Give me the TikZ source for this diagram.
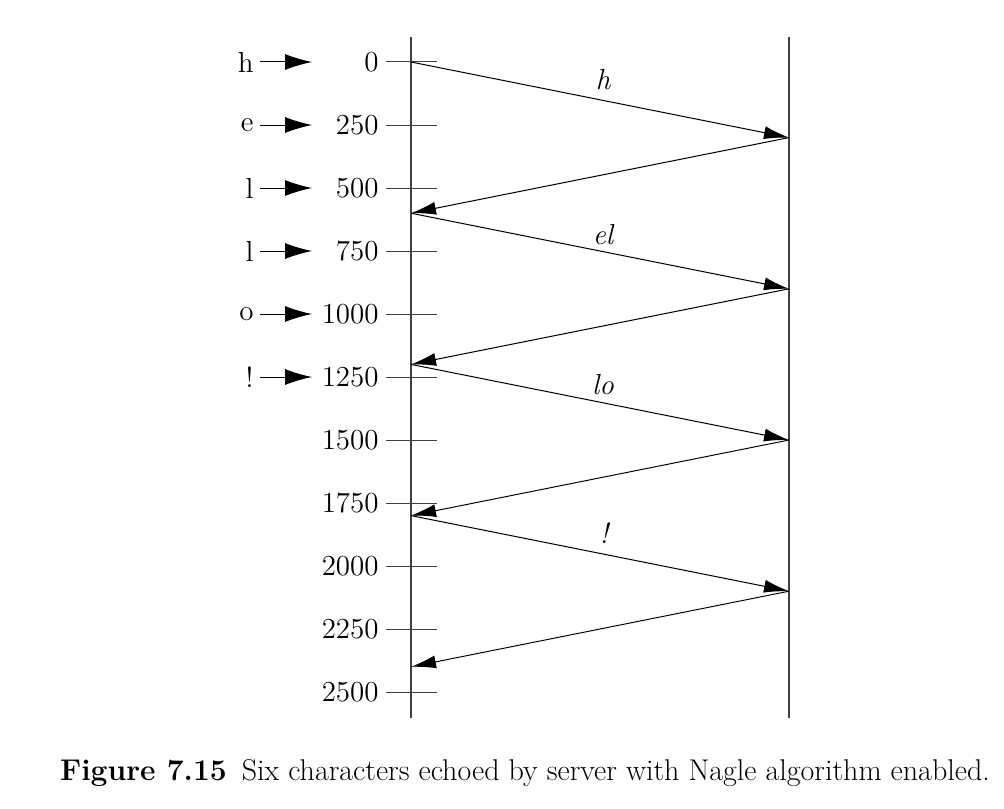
\documentclass[tikz,border=0pt]{standalone}
\usepackage{tikz}
\usetikzlibrary{arrows.meta,positioning}
\tikzset{
  msg/.style={-{Latex[length=12.5pt,width=6.5pt]},line width=0.5pt},
  inarr/.style={-{Latex[length=13.5pt,width=8pt]},line width=0.5pt},
  axis/.style={line width=0.6pt,black!75},
  ticklabel/.style={anchor=east,inner sep=0pt,font=\fontsize{14.5}{16}\selectfont},
  msglabel/.style={inner sep=0pt,font=\fontsize{14.5}{16}\selectfont\itshape}
}
\begin{document}
\begin{tikzpicture}[x=0.5pt,y=-0.5pt]
\useasboundingbox (0,0) rectangle (1004,808);
\coordinate (lt) at (411,37);
\coordinate (lb) at (411,718);
\coordinate (rt) at (789,37);
\coordinate (rb) at (789,718);
\draw[axis] (lt) -- (lb);
\draw[axis] (rt) -- (rb);
\foreach \v [count=\i from 0] in {0,250,...,2500} {
  \node[ticklabel] (t\i) at (379,{62+0.252*\v}) {\v};
  \draw[axis,line width=0.5pt] (386,{62+0.252*\v}) -- (437,{62+0.252*\v});
}
\foreach \c [count=\i from 0] in {h,e,l,l,o,!} {
  \node[ticklabel] (ch\i) at (254,{62+63*\i}) {\c};
  \coordinate (in\i) at (312,{62+63*\i});
  \draw[inarr] ([xshift=3pt]ch\i.east) -- (in\i);
}
\foreach \k in {0,...,4}
  \coordinate (a\k) at (411,{62+151.2*\k});
\foreach \k in {0,...,3}
  \coordinate (b\k) at (789,{62+151.2*\k+75.6});
\foreach \k [evaluate=\k as \n using int(\k+1)] in {0,...,3} {
  \draw[msg] (a\k) -- (b\k);
  \draw[msg] (b\k) -- (a\n);
}
\node[msglabel] (lh) at (603,80) {h};
\node[msglabel] (lel) at (603,235) {el};
\node[msglabel] (llo) at (603,385) {lo};
\node[msglabel] (lex) at (604,533) {!};
\node[inner sep=0pt,font=\fontsize{15}{18}\selectfont] (cap) at (525,773)
  {\textbf{Figure 7.15}\hspace{0.5em}Six characters echoed by server with Nagle algorithm enabled.};
\end{tikzpicture}
\end{document}
